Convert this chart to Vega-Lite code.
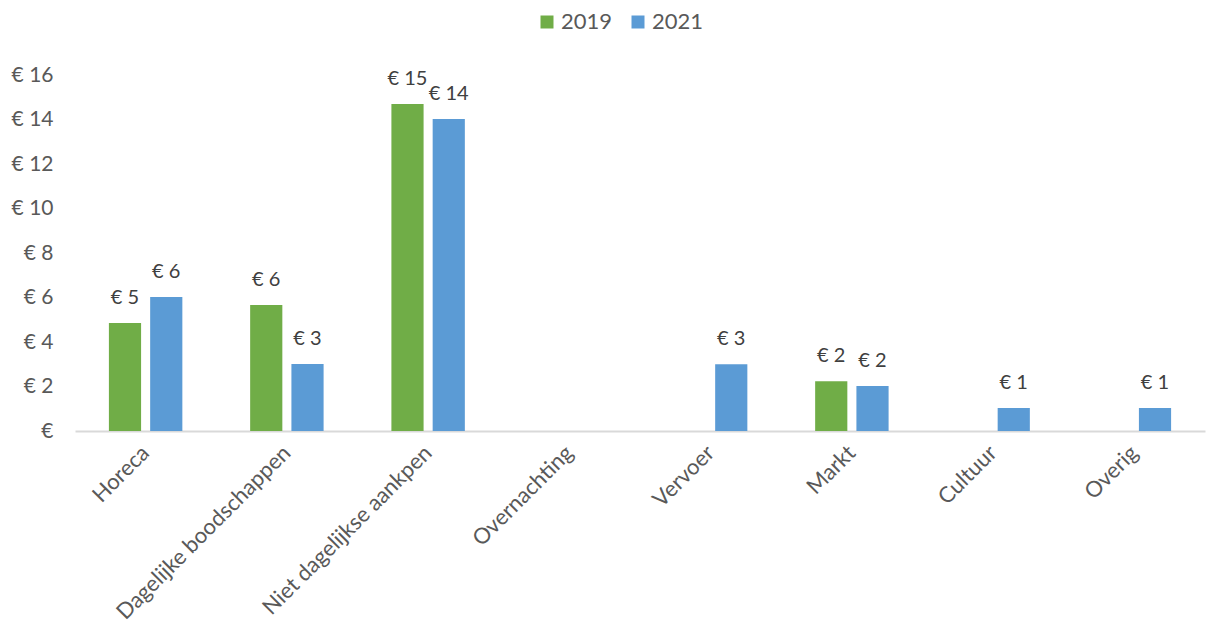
{
  "$schema": "https://vega.github.io/schema/vega-lite/v6.json",
  "width": 1130,
  "height": 356,
  "autosize": {"type": "none"},
  "padding": {"left": 75, "top": 75, "right": 2, "bottom": 200},
  "background": "white",
  "config": {
    "view": {"stroke": null},
    "font": "Lato",
    "axis": {"labelFont": "Lato", "labelColor": "#595959"},
    "legend": {"labelFont": "Lato", "labelFontSize": 22, "labelColor": "#595959"}
  },
  "data": {
    "values": [
      {"categorie": "Horeca", "jaar": "2019", "bedrag": 4.85},
      {"categorie": "Horeca", "jaar": "2021", "bedrag": 6.02},
      {"categorie": "Dagelijke boodschappen", "jaar": "2019", "bedrag": 5.66},
      {"categorie": "Dagelijke boodschappen", "jaar": "2021", "bedrag": 3.01},
      {"categorie": "Niet dagelijkse aankpen", "jaar": "2019", "bedrag": 14.7},
      {"categorie": "Niet dagelijkse aankpen", "jaar": "2021", "bedrag": 14.02},
      {"categorie": "Vervoer", "jaar": "2021", "bedrag": 3.0},
      {"categorie": "Markt", "jaar": "2019", "bedrag": 2.24},
      {"categorie": "Markt", "jaar": "2021", "bedrag": 2.02},
      {"categorie": "Cultuur", "jaar": "2021", "bedrag": 1.03},
      {"categorie": "Overig", "jaar": "2021", "bedrag": 1.03}
    ]
  },
  "encoding": {
    "x": {
      "field": "categorie",
      "type": "nominal",
      "title": null,
      "scale": {
        "domain": ["Horeca", "Dagelijke boodschappen", "Niet dagelijkse aankpen", "Overnachting", "Vervoer", "Markt", "Cultuur", "Overig"],
        "paddingInner": 0.48,
        "paddingOuter": 0.24
      },
      "axis": {
        "labelAngle": -45,
        "labelAlign": "right",
        "labelBaseline": "middle",
        "labelPadding": 18,
        "labelFontSize": 22,
        "ticks": false,
        "domainColor": "#d9d9d9",
        "domainWidth": 2,
        "labelLimit": 400
      }
    },
    "xOffset": {
      "field": "jaar",
      "type": "nominal",
      "scale": {"domain": ["2019", "2021"], "paddingInner": 0.22, "paddingOuter": 0}
    },
    "y": {
      "field": "bedrag",
      "type": "quantitative",
      "title": null,
      "scale": {"domain": [0, 16], "nice": false},
      "axis": {
        "values": [0, 2, 4, 6, 8, 10, 12, 14, 16],
        "labelExpr": "datum.value == 0 ? '€' : '€ ' + datum.value",
        "labelFontSize": 21,
        "grid": false,
        "domain": false,
        "ticks": false,
        "labelPadding": 22
      }
    }
  },
  "layer": [
    {
      "mark": {"type": "bar"},
      "encoding": {
        "color": {
          "field": "jaar",
          "type": "nominal",
          "title": null,
          "scale": {"domain": ["2019", "2021"], "range": ["#70AD47", "#5B9BD5"]},
          "legend": {
            "orient": "none",
            "legendX": 461,
            "legendY": -64,
            "direction": "horizontal",
            "symbolType": "square",
            "symbolSize": 169,
            "symbolStrokeWidth": 0,
            "columnPadding": 14,
            "labelOffset": 3
          }
        }
      }
    },
    {
      "mark": {
        "type": "text",
        "dy": -15,
        "fontSize": 20,
        "color": "#404040",
        "baseline": "bottom",
        "text": {"expr": "'€ ' + format(datum.bedrag, '.0f')"}
      },
      "encoding": {}
    }
  ]
}
